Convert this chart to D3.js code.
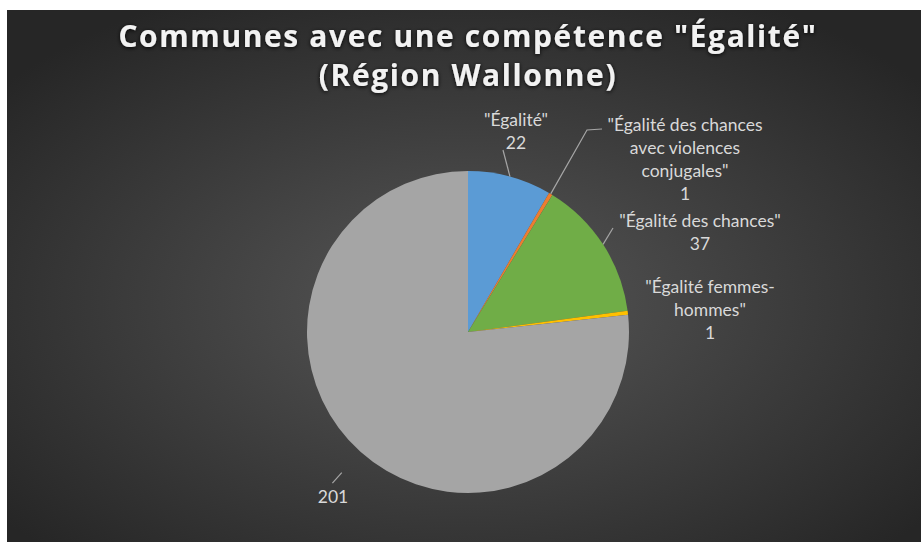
<!DOCTYPE html>
<html>
<head>
<meta charset="utf-8">
<script src="https://cdn.jsdelivr.net/npm/d3@7"></script>
<style>
  body { margin: 0; background: #fff; }
  svg { display: block; }
</style>
</head>
<body>
<div id="chart"></div>
<script>
//============ data =========//
var categories = ['"Égalité"', '"Égalité des chances avec violences conjugales"', '"Égalité des chances"', '"Égalité femmes-hommes"', ''];
var values = [22, 1, 37, 1, 201];
var colors = ['#5b9bd5', '#ed7d31', '#70ad47', '#ffc000', '#a5a5a5'];
// label lines as Excel wrapped them
var labelLines = [
  ['"Égalité"'],
  ['"Égalité des chances', 'avec violences', 'conjugales"'],
  ['"Égalité des chances"'],
  ['"Égalité femmes-', 'hommes"'],
  ['']
];

var W = 921, H = 542;
var frame = {x: 7, y: 10};
var cx = 468, cy = 332, radius = 161;

// label placement relative to pie centre: [x, first baseline]
var labelPos = [[48, -206], [217, -201], [232, -105], [242, -39], [-135, 171]];
var lineH = 23;

var svg = d3.select('#chart').append('svg')
  .attr('width', W)
  .attr('height', H);

var defs = svg.append('defs');
var grad = defs.append('radialGradient')
  .attr('id', 'bg')
  .attr('cx', '50%').attr('cy', '55%').attr('r', '65%');
grad.append('stop').attr('offset', '0%').attr('stop-color', '#575757');
grad.append('stop').attr('offset', '100%').attr('stop-color', '#262626');

var shadow = defs.append('filter').attr('id', 'glow')
  .attr('x', '-5%').attr('y', '-30%').attr('width', '110%').attr('height', '160%');
shadow.append('feDropShadow')
  .attr('dx', 0).attr('dy', 1).attr('stdDeviation', 2)
  .attr('flood-color', '#000').attr('flood-opacity', 0.9);

svg.append('rect')
  .attr('x', frame.x).attr('y', frame.y)
  .attr('width', W - frame.x).attr('height', H - frame.y)
  .attr('fill', 'url(#bg)');

// title, two separate lines
var titleLines = ['Communes avec une compétence "Égalité"', '(Région Wallonne)'];
svg.selectAll('.title')
  .data(titleLines)
  .enter().append('text')
  .attr('class', 'title')
  .attr('x', 468)
  .attr('y', function(d, i) { return 46.5 + i * 39.5; })
  .attr('text-anchor', 'middle')
  .attr('font-family', 'Open Sans')
  .attr('font-weight', 'bold')
  .attr('font-size', 30)
  .attr('letter-spacing', 1.6)
  .attr('fill', '#f2f2f2')
  .attr('filter', 'url(#glow)')
  .text(function(d) { return d; });

//pie generator
var pie = d3.pie()
  .sort(null)
  .value(function(d) { return d; });

var arc = d3.arc()
  .outerRadius(radius)
  .innerRadius(0);

var g = svg.append('g')
  .attr('transform', 'translate(' + cx + ',' + cy + ')');

var arcs = pie(values);

g.selectAll('.slice')
  .data(arcs)
  .enter().append('path')
  .attr('class', 'slice')
  .attr('d', arc)
  .attr('fill', function(d, i) { return colors[i]; });

// point on a circle of radius r at slice mid angle
function midPoint(d, r) {
  var a = (d.startAngle + d.endAngle) / 2;
  return [r * Math.sin(a), -r * Math.cos(a)];
}

// leader lines
var leaders = [
  [midPoint(arcs[0], radius), [35, -182]],
  [midPoint(arcs[1], radius), [119, -202], [134, -203]],
  [midPoint(arcs[2], radius), [145, -104]],
  null,
  [midPoint(arcs[4], radius + 28), midPoint(arcs[4], radius + 42)]
];

g.selectAll('.leader')
  .data(leaders.filter(function(l) { return l; }))
  .enter().append('path')
  .attr('class', 'leader')
  .attr('d', function(d) { return d3.line()(d); })
  .attr('fill', 'none')
  .attr('stroke', '#a6a6a6')
  .attr('stroke-width', 1.2);

// labels
var labels = g.selectAll('.label')
  .data(arcs)
  .enter().append('text')
  .attr('class', 'label')
  .attr('text-anchor', 'middle')
  .attr('font-family', 'Lato')
  .attr('font-size', 17.5)
  .attr('fill', '#d9d9d9');

labels.each(function(d, i) {
  var t = d3.select(this);
  var lines = labelLines[i].filter(function(s) { return s !== ''; }).concat([String(d.data)]);
  lines.forEach(function(s, j) {
    t.append('tspan')
      .attr('x', labelPos[i][0])
      .attr('y', labelPos[i][1] + j * lineH)
      .text(s);
  });
});
</script>
</body>
</html>
